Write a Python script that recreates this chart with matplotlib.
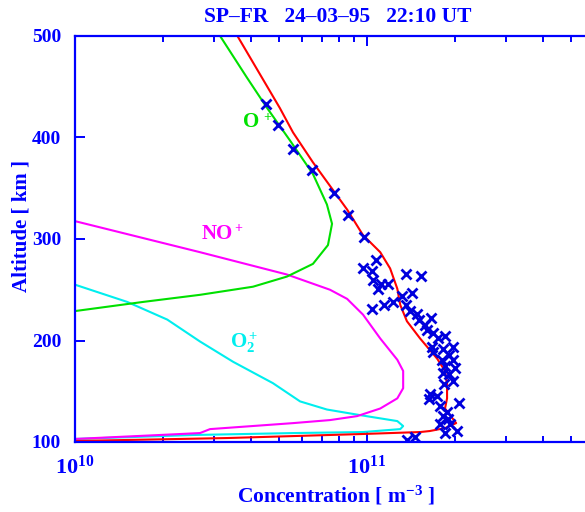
"""Ion density profiles, SP-FR 24-03-95 22:10 UT."""

import matplotlib
matplotlib.use("Agg")
import matplotlib.pyplot as plt
from matplotlib.ticker import FixedLocator, FixedFormatter, LogLocator, NullFormatter

plt.rcParams['font.family'] = ['Liberation Serif', 'DejaVu Serif']
plt.rcParams['font.weight'] = 'bold'
plt.rcParams['mathtext.fontset'] = 'custom'
plt.rcParams['mathtext.rm'] = 'Liberation Serif:bold'
plt.rcParams['mathtext.it'] = 'Liberation Serif:bold'
plt.rcParams['mathtext.bf'] = 'Liberation Serif:bold'

BLUE = '#0000ff'

# total model density (red)
total_alt = [500, 429, 405, 375.5, 329, 304, 287, 271, 251, 235, 219, 202, 182,
             170, 157, 143, 133, 123.5, 118.6, 113.7, 110.8, 109.8, 107.8, 103.9, 101]
total_n = [3.6e10, 5.03e10, 5.58e10, 6.53e10, 8.55e10, 9.68e10, 1.11e11, 1.20e11,
           1.27e11, 1.30e11, 1.37e11, 1.52e11, 1.74e11, 1.85e11, 1.88e11, 1.88e11,
           1.85e11, 1.96e11, 2.02e11, 1.85e11, 1.64e11, 1.52e11, 9.46e10, 3.32e10, 1.0e10]

# O+ (green)
op_alt = [500, 459, 429, 397, 364, 334, 315, 294, 275.5, 263, 253, 245, 238, 229]
op_n = [3.14e10, 3.88e10, 4.55e10, 5.45e10, 6.53e10, 7.29e10, 7.59e10, 7.35e10,
        6.53e10, 5.32e10, 4.07e10, 2.68e10, 1.71e10, 1.0e10]

# NO+ (magenta)
nop_alt = [317.6, 287, 265, 250, 241, 225.5, 202, 181, 170, 153, 143, 133, 125.5,
           121.6, 118.6, 112.7, 108.8, 106.9, 103]
nop_n = [1.0e10, 2.68e10, 5.32e10, 7.47e10, 8.55e10, 9.69e10, 1.11e11, 1.27e11,
         1.33e11, 1.33e11, 1.27e11, 1.11e11, 9.25e10, 7.47e10, 5.58e10, 2.90e10,
         2.68e10, 1.95e10, 1.0e10]

# O2+ (cyan)
o2p_alt = [255, 238, 220.6, 199, 179, 158, 140, 132, 126.5, 120.6, 115.7, 112.7,
           109.8, 108.8, 106.9, 103]
o2p_n = [1.0e10, 1.51e10, 2.07e10, 2.68e10, 3.48e10, 4.76e10, 5.90e10, 7.29e10,
         9.46e10, 1.27e11, 1.33e11, 1.30e11, 9.69e10, 5.58e10, 2.54e10, 1.0e10]

# measured electron density (crosses)
meas_alt = [433, 412, 389, 368, 345, 323.5, 302, 279.4, 271.6, 268.6, 265.7, 263.7,
            259.8, 255.9, 255.9, 251, 247, 244, 238, 235, 231, 235, 229, 226.5,
            220.6, 222.5, 215.7, 210.8, 206.9, 204, 202, 194, 192, 194, 189, 186,
            181, 181, 174.5, 172.5, 167.6, 166.7, 159.8, 156.9, 147, 145, 142, 138,
            135, 130, 125.5, 122.5, 117.6, 117.6, 108.8, 110.8, 102, 105]
meas_n = [4.51e10, 4.95e10, 5.58e10, 6.49e10, 7.71e10, 8.61e10, 9.78e10, 1.074e11,
          9.69e10, 1.04e11, 1.36e11, 1.53e11, 1.05e11, 1.12e11, 1.18e11, 1.09e11,
          1.43e11, 1.32e11, 1.23e11, 1.14e11, 1.04e11, 1.36e11, 1.40e11, 1.48e11,
          1.51e11, 1.66e11, 1.58e11, 1.60e11, 1.68e11, 1.85e11, 1.75e11, 1.67e11,
          1.82e11, 1.97e11, 1.68e11, 1.91e11, 1.81e11, 1.97e11, 1.85e11, 2.00e11,
          1.82e11, 1.91e11, 1.97e11, 1.84e11, 1.64e11, 1.74e11, 1.63e11, 2.07e11,
          1.78e11, 1.88e11, 1.82e11, 1.89e11, 1.78e11, 1.92e11, 1.85e11, 2.03e11,
          1.37e11, 1.46e11]

alt_ticks = [100, 200, 300, 400, 500]
conc_ticks = [1e10, 1e11]
conc_labels = [r'$10^{10}$', r'$10^{11}$']

fig = plt.figure(figsize=(5.85, 5.12), dpi=100)
# axes runs to 1e12, past the right edge of the figure
ax = fig.add_axes([75 / 585, 1 - 442 / 512, 584 / 585, 406 / 512])

ax.plot(o2p_n, o2p_alt, color='#00eeee', lw=1.5)
ax.plot(nop_n, nop_alt, color='#ff00ff', lw=1.5)
ax.plot(op_n, op_alt, color='#00e000', lw=1.5)
ax.plot(total_n, total_alt, color='#ff0000', lw=1.5)
ax.plot(meas_n, meas_alt, 'x', color='#0000dd', ms=6.5, mew=2)

ax.set_xscale('log')
ax.set_xlim(1e10, 1e12)
ax.set_ylim(100, 500)

# curve labels
ax.text(4.0e10, 415, 'O', color='#00e000', fontsize=15, ha='center', va='center')
ax.text(4.55e10, 420, '+', color='#00e000', fontsize=10, ha='center', va='center')
ax.text(3.06e10, 305, 'NO', color='#ff00ff', fontsize=15, ha='center', va='center')
ax.text(3.62e10, 310, '+', color='#ff00ff', fontsize=10, ha='center', va='center')
ax.text(3.8e10, 198, r'O$_2^+$', color='#00eeee', fontsize=15, ha='center', va='center')

for s in ax.spines.values():
    s.set_color(BLUE)
    s.set_linewidth(1.6)

ax.yaxis.set_major_locator(FixedLocator(alt_ticks))
ax.yaxis.set_major_formatter(FixedFormatter([str(t) for t in alt_ticks]))
ax.xaxis.set_major_locator(FixedLocator(conc_ticks))
ax.xaxis.set_major_formatter(FixedFormatter(conc_labels))
ax.xaxis.set_minor_locator(LogLocator(base=10, subs=range(2, 10)))
ax.xaxis.set_minor_formatter(NullFormatter())
ax.tick_params(axis='both', which='both', direction='in', colors=BLUE,
               top=True, right=True, width=1.4)
ax.tick_params(axis='x', which='major', length=7, pad=10, labelsize=16)
ax.tick_params(axis='x', which='minor', length=4)
ax.tick_params(axis='y', which='major', length=7, pad=10, labelsize=14)
for lbl in ax.get_xticklabels() + ax.get_yticklabels():
    lbl.set_fontweight('bold')

fig.text(338 / 585, 1 - 17 / 512, 'SP\u2013FR   24\u201303\u201395   22:10 UT',
         color=BLUE, fontsize=15.5, fontweight='bold', ha='center', va='center')
fig.text(336 / 585, 1 - 496 / 512, r'Concentration [ m$^{-3}$ ]',
         color=BLUE, fontsize=15.5, fontweight='bold', ha='center', va='center')
fig.text(22 / 585, 1 - 226 / 512, 'Altitude [ km ]', rotation=90,
         color=BLUE, fontsize=15, fontweight='bold', ha='center', va='center')

fig.savefig('out.png', dpi=100)
